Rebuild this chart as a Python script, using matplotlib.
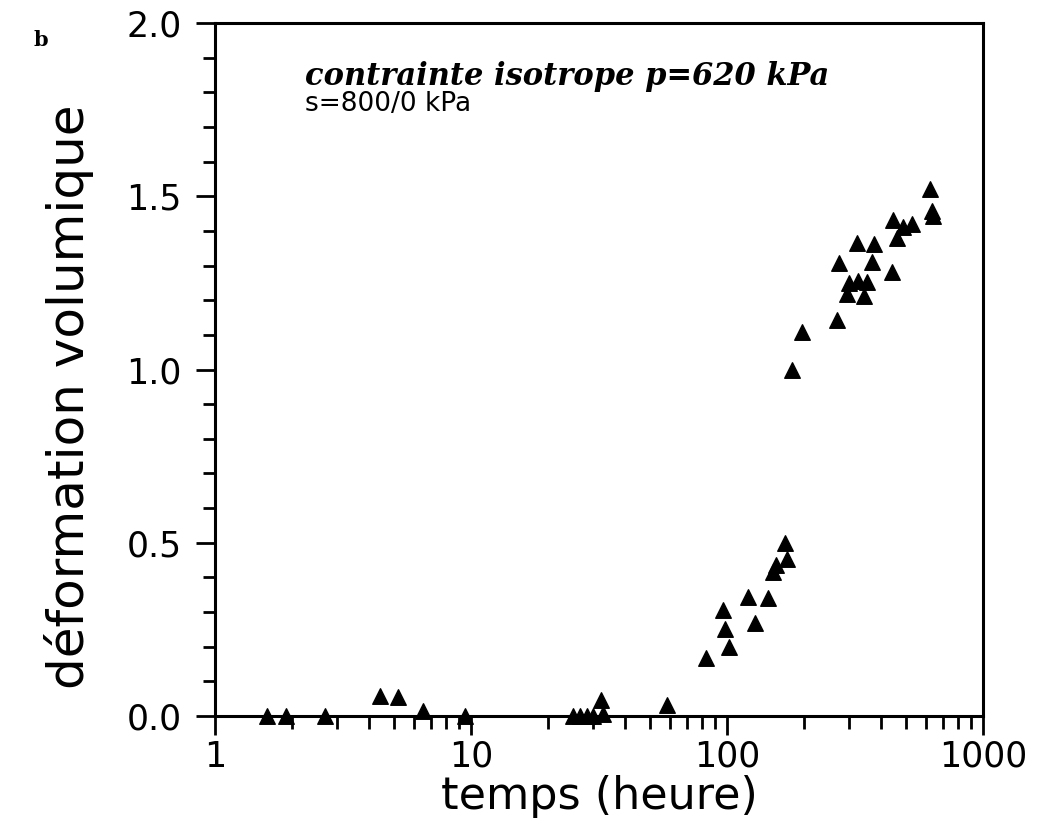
import numpy as np
import matplotlib
matplotlib.use("Agg")
from matplotlib import pyplot as plt
from matplotlib.ticker import MultipleLocator, LogLocator, NullFormatter, FixedFormatter, FixedLocator

# temps (heure) and déformation volumique
temps = [1.6, 1.9, 2.7, 4.4, 5.2, 6.5, 9.5,
         25.0, 26.7, 28.4, 30.0, 32.8, 32.2, 58.3,
         83, 98, 102, 96.5, 121, 129, 145, 151, 155, 171, 169,
         179, 196, 269, 294, 343, 300, 325, 352, 274, 368, 441,
         322, 375, 445, 460, 487, 528, 621, 631, 640]
deformation = [0.0, 0.0, 0.0, 0.058, 0.055, 0.015, 0.0,
               0.0, 0.0, 0.0, 0.0, 0.005, 0.046, 0.033,
               0.167, 0.25, 0.20, 0.305, 0.343, 0.268, 0.34, 0.415, 0.435, 0.452, 0.50,
               1.0, 1.107, 1.144, 1.219, 1.213, 1.25, 1.256, 1.253, 1.308, 1.311, 1.28,
               1.366, 1.363, 1.432, 1.38, 1.41, 1.42, 1.52, 1.458, 1.444]

xticks = [1, 10, 100, 1000]
xticklabels = ['1', '10', '100', '1000']
yticks = [0.0, 0.5, 1.0, 1.5, 2.0]

fig = plt.figure(figsize=(10.39, 8.36), dpi=100)
ax = fig.add_axes([0.207, 0.1435, 0.739, 0.829])

ax.scatter(temps, deformation, marker='^', s=125, color='black', zorder=3, clip_on=False)

ax.set_xscale('log')
ax.set_xlim(1, 1000)
ax.set_ylim(0, 2.0)

ax.xaxis.set_major_locator(FixedLocator(xticks))
ax.xaxis.set_major_formatter(FixedFormatter(xticklabels))
ax.xaxis.set_minor_locator(LogLocator(base=10, subs=np.arange(2, 10)))
ax.xaxis.set_minor_formatter(NullFormatter())
ax.yaxis.set_major_locator(FixedLocator(yticks))
ax.yaxis.set_minor_locator(MultipleLocator(0.1))
ax.set_yticklabels(['%.1f' % v for v in yticks])

for s in ax.spines.values():
    s.set_linewidth(2.2)
ax.tick_params(which='major', direction='out', length=14, width=2, labelsize=25)
ax.tick_params(axis='x', which='major', pad=3)
ax.tick_params(axis='y', which='major', pad=10)
ax.tick_params(which='minor', direction='out', length=9, width=2)
ax.tick_params(top=False, right=False)

ax.set_xlabel('temps (heure)', fontsize=32)
ax.xaxis.set_label_coords(0.5, -0.085)
ax.set_ylabel('déformation volumique', fontsize=36)
ax.yaxis.set_label_coords(-0.158, 0.46)

ax.text(0.117, 0.91, 'contrainte isotrope p=620 kPa', transform=ax.transAxes,
        fontsize=22, fontweight='bold', fontstyle='italic', family='DejaVu Serif')
ax.text(0.117, 0.873, 's=800/0 kPa', transform=ax.transAxes, fontsize=19)
fig.text(0.032, 0.945, 'b', fontsize=15, fontweight='bold', family='DejaVu Serif')

fig.savefig('out.png', dpi=100)
